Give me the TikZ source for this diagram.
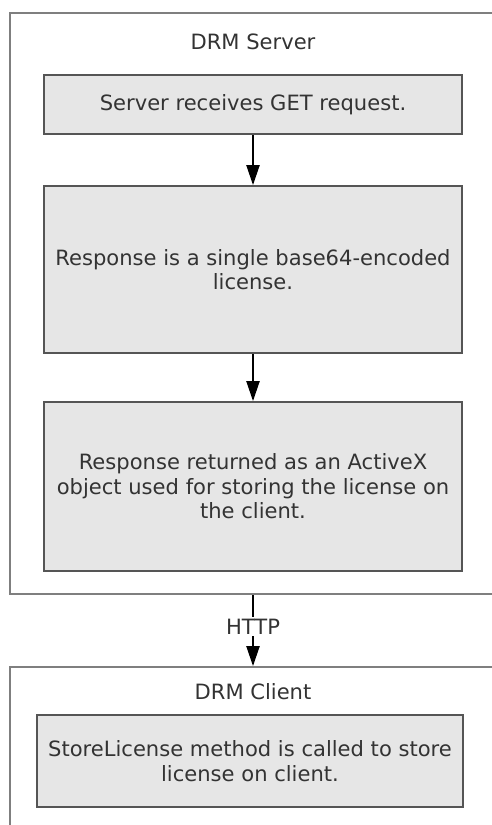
\documentclass[tikz,border=0pt]{standalone}
\usepackage{fontspec}
\setmainfont{DejaVu Sans}
\usetikzlibrary{arrows.meta}
\definecolor{boxfill}{HTML}{E6E6E6}
\definecolor{boxline}{HTML}{555555}
\definecolor{frameline}{HTML}{7F7F7F}
\definecolor{txt}{HTML}{333333}
\begin{document}
\begin{tikzpicture}[x=0.75pt, y=-0.75pt,
    every node/.style={font=\fontsize{15.8}{18.4}\selectfont, text=txt, align=center},
    stepbox/.style={draw=boxline, fill=boxfill, line width=1.5pt, minimum width=313.5pt, inner sep=0pt},
    frame/.style={draw=frameline, line width=1.5pt, minimum width=364.5pt, inner sep=0pt},
    flow/.style={line width=1pt, -{Triangle[length=15pt, width=10pt]}}]
    \clip (0,0) rectangle (492,825);
    \node[frame, minimum height=435.75pt] (server) at (253,303.5) {};
    \node[frame, minimum height=150pt] (client) at (253,767) {};
    \node (srvlbl) at (253,42) {DRM Server};
    \node (clilbl) at (253,692) {DRM Client};
    \node[stepbox, minimum height=44.25pt] (get) at (253,104.5) {Server receives GET request.};
    \node[stepbox, minimum height=125.25pt] (resp) at (253,269.5) {Response is a single base64-encoded\\license.};
    \node[stepbox, minimum height=126.75pt] (ret) at (253,486.5) {Response returned as an ActiveX\\object used for storing the license on\\the client.};
    \node[stepbox, minimum width=319.5pt, minimum height=69pt] (store) at (250,761) {StoreLicense method is called to store\\license on client.};
    \draw[flow] (get) -- (resp);
    \draw[flow] (resp) -- (ret);
    \draw[flow] (server) -- node[fill=white, inner sep=1pt, yshift=3pt] {HTTP} (client);
\end{tikzpicture}
\end{document}
